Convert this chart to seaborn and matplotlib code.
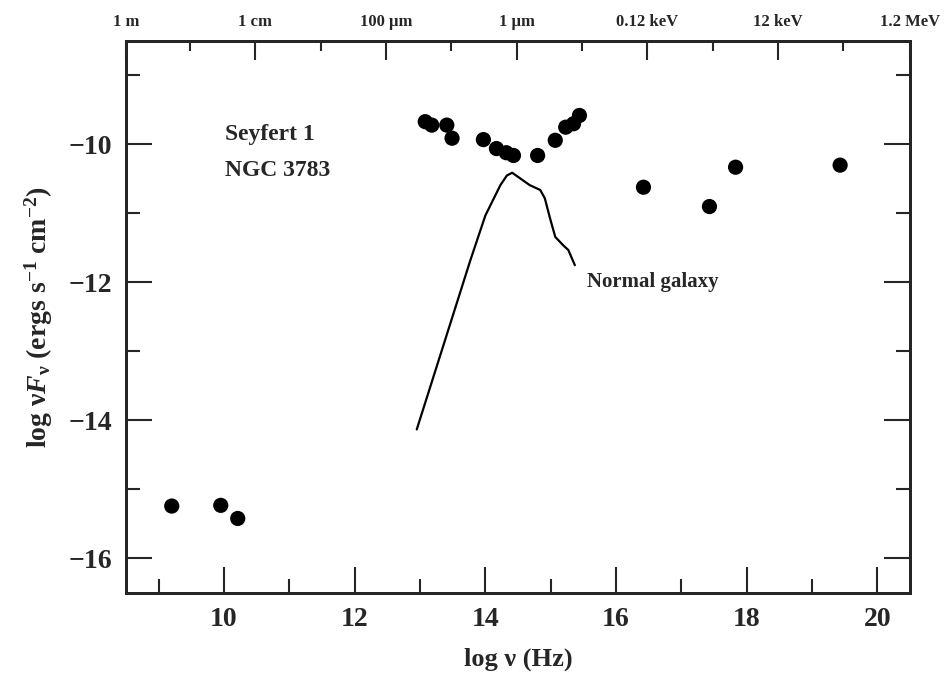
import matplotlib
matplotlib.use("Agg")
import matplotlib.pyplot as plt
import seaborn as sns
import pandas as pd
from matplotlib.ticker import FixedLocator

# ---- data ----
seyfert_logv = [9.20, 9.95, 10.21, 13.08, 13.18, 13.41, 13.49, 13.97, 14.17, 14.32, 14.43,
                14.80, 15.07, 15.23, 15.35, 15.44, 16.42, 17.43, 17.83, 19.43]
seyfert_logflux = [-15.24, -15.23, -15.42, -9.67, -9.72, -9.72, -9.91, -9.93, -10.06, -10.12, -10.16,
                   -10.16, -9.94, -9.75, -9.70, -9.58, -10.62, -10.90, -10.33, -10.30]

galaxy_logv = [12.95, 13.77, 14.00, 14.23, 14.33, 14.41, 14.53, 14.68, 14.84, 14.91, 14.99,
               15.07, 15.19, 15.27, 15.37]
galaxy_logflux = [-14.13, -11.68, -11.03, -10.59, -10.45, -10.41, -10.49, -10.59, -10.66, -10.78, -11.07,
                  -11.34, -11.46, -11.53, -11.75]

top_tick_pos = [8.5, 10.48, 12.48, 14.48, 16.48, 18.48, 20.5]
top_tick_labels = ["1 m", "1 cm", "100 μm", "1 μm", "0.12 keV", "12 keV", "1.2 MeV"]

# ---- style ----
sns.set_style("white")
plt.rcParams["font.family"] = ["Liberation Serif", "DejaVu Serif"]
plt.rcParams["font.weight"] = "bold"
plt.rcParams["mathtext.fontset"] = "custom"
plt.rcParams["mathtext.rm"] = "Liberation Serif:bold"
plt.rcParams["mathtext.it"] = "Liberation Serif:italic:bold"
plt.rcParams["mathtext.bf"] = "Liberation Serif:bold"

fig = plt.figure(figsize=(9.44, 6.82), dpi=100)
ax = fig.add_axes([0.1335, 0.1305, 0.8305, 0.8095])

df_s = pd.DataFrame({"logv": seyfert_logv, "logf": seyfert_logflux})
df_g = pd.DataFrame({"logv": galaxy_logv, "logf": galaxy_logflux})

sns.lineplot(data=df_g, x="logv", y="logf", sort=False, color="black", linewidth=1.6, ax=ax)
sns.scatterplot(data=df_s, x="logv", y="logf", color="black", s=120, edgecolor="none", ax=ax, zorder=3)

ax.set_xlim(8.5, 20.5)
ax.set_ylim(-16.5, -8.5)

ax.xaxis.set_major_locator(FixedLocator([10, 12, 14, 16, 18, 20]))
ax.xaxis.set_minor_locator(FixedLocator([9, 11, 13, 15, 17, 19]))
ax.yaxis.set_major_locator(FixedLocator([-16, -14, -12, -10]))
ax.yaxis.set_minor_locator(FixedLocator([-15, -13, -11, -9]))

ax.tick_params(axis="both", which="major", direction="in", length=19, width=1.5,
               labelsize=20, pad=10, left=True, bottom=True, right=True, top=False)
ax.tick_params(axis="both", which="minor", direction="in", length=10, width=1.5,
               left=True, bottom=True, right=True, top=False)
ax.set_yticklabels(["\u221216", "\u221214", "\u221212", "\u221210"])
for lab in ax.get_xticklabels() + ax.get_yticklabels():
    lab.set_fontweight("bold")

for sp in ax.spines.values():
    sp.set_linewidth(2.0)
    sp.set_color("black")

ax.set_xlabel("log ν (Hz)", fontsize=19, fontweight="bold", labelpad=11)
ax.set_ylabel(r"log ν$\mathit{F}_{\mathrm{ν}}$ (ergs s$^{-1}$ cm$^{-2}$)", fontsize=20,
              fontweight="bold", labelpad=10)

# top axis
axt = ax.twiny()
axt.set_xlim(ax.get_xlim())
axt.xaxis.set_major_locator(FixedLocator(top_tick_pos))
axt.xaxis.set_minor_locator(FixedLocator([9.48, 11.48, 13.48, 15.48, 17.48, 19.48]))
axt.set_xticklabels(top_tick_labels)
axt.tick_params(axis="x", which="major", direction="in", length=14, width=1.5, labelsize=12, pad=8)
axt.tick_params(axis="x", which="minor", direction="in", length=7, width=1.5)
for lab in axt.get_xticklabels():
    lab.set_fontweight("bold")
axt.grid(False)
for sp in axt.spines.values():
    sp.set_linewidth(2.0)

ax.text(10.02, -9.85, "Seyfert 1", fontsize=17, fontweight="bold", va="center", ha="left")
ax.text(10.02, -10.38, "NGC 3783", fontsize=17, fontweight="bold", va="center", ha="left")
ax.text(15.56, -11.99, "Normal galaxy", fontsize=15, fontweight="bold", va="center", ha="left")

fig.savefig("out.png", dpi=100)
